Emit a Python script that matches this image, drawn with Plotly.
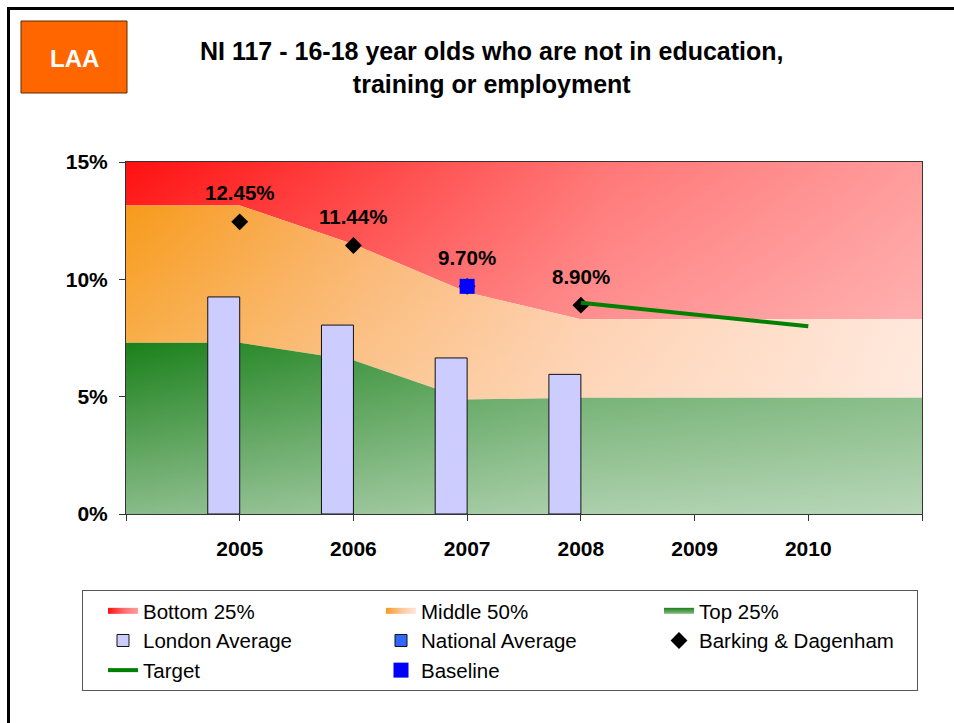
import plotly.graph_objects as go

# ---------------- data ----------------
band_years = [2004, 2005, 2006, 2007, 2008, 2009, 2010, 2011]
top25_upper = [7.3, 7.3, 6.55, 4.88, 4.95, 4.95, 4.95, 4.95]
middle50_upper = [13.15, 13.15, 11.5, 9.45, 8.3, 8.3, 8.3, 8.3]
bottom25_upper = [15, 15, 15, 15, 15, 15, 15, 15]

years = [2005, 2006, 2007, 2008]
london_avg = [9.25, 8.05, 6.65, 5.95]
national_avg = [None, None, None, None]
barking = [12.45, 11.44, 9.70, 8.90]

target_years = [2008, 2010]
target = [9.0, 8.0]

baseline_years = [2007]
baseline = [9.70]

tick_years = [2004, 2005, 2006, 2007, 2008, 2009, 2010, 2011]
tick_labels = ["", "2005", "2006", "2007", "2008", "2009", "2010", ""]
y_ticks = [0, 5, 10, 15]
y_tick_labels = [f"{v}%" for v in y_ticks]

FONT = "Liberation Sans, Arial, sans-serif"

# plot-area pixel geometry (for paper-coordinate helpers)
W, H = 954, 723
L, R, T, B = 126, 32, 162, 209
PW, PH = W - L - R, H - T - B


def px(xp):
    return (xp - L) / PW


def py(yp):
    return (H - B - yp) / PH


def band(lower, upper):
    xs = band_years + band_years[::-1]
    ys = list(upper) + list(lower)[::-1]
    return xs, ys


zeros = [0] * len(band_years)

fig = go.Figure()

# Bottom 25% (red)
bx, by = band(middle50_upper, bottom25_upper)
fig.add_trace(go.Scatter(
    x=bx, y=by, fill="toself", mode="none", name="Bottom 25%",
    fillgradient=dict(type="horizontal", start=2004, stop=2011,
                      colorscale=[[0, "#FF1010"], [0.43, "#FF5A5A"],
                                  [0.6, "#FF7676"], [1, "#FF9C9C"]]),
    hoverinfo="skip"))
# Middle 50% (orange)
mx, my = band(top25_upper, middle50_upper)
fig.add_trace(go.Scatter(
    x=mx, y=my, fill="toself", mode="none", name="Middle 50%",
    fillgradient=dict(type="horizontal", start=2004, stop=2011,
                      colorscale=[[0, "#F79A1A"], [0.3, "#FAB36A"],
                                  [0.57, "#FECAA5"], [1, "#FFE6DA"]]),
    hoverinfo="skip"))
# Top 25% (green)
gx, gy = band(zeros, top25_upper)
fig.add_trace(go.Scatter(
    x=gx, y=gy, fill="toself", mode="none", name="Top 25%",
    fillgradient=dict(type="vertical", start=0, stop=7.3,
                      colorscale=[[0, "#88BB88"], [1, "#1A801A"]]),
    hoverinfo="skip"))

# gradient overlays (diagonal feel)
fig.add_trace(go.Scatter(
    x=bx, y=by, fill="toself", mode="none", showlegend=False,
    fillgradient=dict(type="vertical", start=8.3, stop=15,
                      colorscale=[[0, "rgba(255,255,255,0.2)"], [1, "rgba(255,255,255,0)"]]),
    hoverinfo="skip"))
fig.add_trace(go.Scatter(
    x=mx, y=my, fill="toself", mode="none", showlegend=False,
    fillgradient=dict(type="vertical", start=4.9, stop=13.15,
                      colorscale=[[0, "rgba(255,240,230,0.32)"], [1, "rgba(255,240,230,0)"]]),
    hoverinfo="skip"))
fig.add_trace(go.Scatter(
    x=gx, y=gy, fill="toself", mode="none", showlegend=False,
    fillgradient=dict(type="horizontal", start=2004, stop=2011,
                      colorscale=[[0, "rgba(255,255,255,0)"], [0.57, "rgba(255,255,255,0.3)"],
                                  [1, "rgba(255,255,255,0.4)"]]),
    hoverinfo="skip"))

# London Average bars (overlay axes so they sit above the bands)
fig.add_trace(go.Bar(
    x=years, y=london_avg, name="London Average", xaxis="x2", yaxis="y2",
    marker=dict(color="#CCCCFF", line=dict(color="#111111", width=1)),
    width=0.281, offset=-0.281, hoverinfo="skip"))
fig.add_trace(go.Bar(
    x=years, y=national_avg, name="National Average", xaxis="x2", yaxis="y2",
    marker=dict(color="#3366FF", line=dict(color="#111111", width=1)),
    width=0.281, offset=0, hoverinfo="skip"))

fig.add_trace(go.Scatter(
    x=years, y=barking, name="Barking & Dagenham", mode="markers",
    xaxis="x2", yaxis="y2",
    marker=dict(symbol="diamond", size=13, color="black"), hoverinfo="skip"))
fig.add_trace(go.Scatter(
    x=target_years, y=target, name="Target", mode="lines",
    xaxis="x2", yaxis="y2",
    line=dict(color="#008000", width=4), hoverinfo="skip"))
fig.add_trace(go.Scatter(
    x=baseline_years, y=baseline, name="Baseline", mode="markers",
    xaxis="x2", yaxis="y2",
    marker=dict(symbol="square", size=15, color="#0000FF"), hoverinfo="skip"))

annotations = []
for xv, yv in zip(years, barking):
    annotations.append(dict(
        x=xv, y=yv, xref="x", yref="y", text=f"{yv:.2f}%", showarrow=False,
        yshift=29, font=dict(family=FONT, size=20.5, color="black", weight="bold")))

annotations.append(dict(
    x=px(492), y=py(68), xref="paper", yref="paper",
    text="NI 117 - 16-18 year olds who are not in education,<br>training or employment",
    showarrow=False, xanchor="center", yanchor="middle", align="center",
    font=dict(family=FONT, size=25, color="black", weight="bold")))
annotations.append(dict(
    x=px(74), y=py(58), xref="paper", yref="paper", text="LAA", showarrow=False,
    xanchor="center", yanchor="middle",
    font=dict(family=FONT, size=24, color="white", weight="bold")))

shapes = [
    dict(type="rect", xref="paper", yref="paper", x0=px(21), x1=px(127), y0=py(21), y1=py(93),
         fillcolor="#FF6600", line=dict(color="#5A2A00", width=1)),
    dict(type="line", xref="paper", yref="paper", x0=px(8.5), x1=px(8.5), y0=py(7), y1=py(730),
         line=dict(color="black", width=3)),
    dict(type="line", xref="paper", yref="paper", x0=px(7), x1=px(960), y0=py(8.5), y1=py(8.5),
         line=dict(color="black", width=3)),
]

fig.update_layout(
    width=W, height=H,
    margin=dict(l=L, r=R, t=T, b=B, pad=0),
    paper_bgcolor="white", plot_bgcolor="white",
    font=dict(family=FONT, color="black"),
    showlegend=True,
    barmode="overlay",
    xaxis=dict(range=[2004, 2011], tickmode="array", tickvals=tick_years, ticktext=tick_labels,
               ticks="outside", ticklen=6, tickcolor="#333", showline=True, linecolor="#333",
               linewidth=1, mirror=True, showgrid=False, zeroline=False,
               tickfont=dict(family=FONT, size=21, color="black", weight="bold"),
               ticklabelstandoff=10),
    yaxis=dict(range=[0, 15], tickmode="array", tickvals=y_ticks, ticktext=y_tick_labels,
               ticks="outside", ticklen=6, tickcolor="#333", showline=True, linecolor="#333",
               linewidth=1, mirror=True, showgrid=False, zeroline=False,
               tickfont=dict(family=FONT, size=21, color="black", weight="bold"),
               ticklabelstandoff=7),
    xaxis2=dict(range=[2004, 2011], overlaying="x", visible=False, anchor="y2"),
    yaxis2=dict(range=[0, 15], overlaying="y", visible=False, anchor="x2"),
    legend=dict(orientation="h", x=px(82), y=py(590), xanchor="left", yanchor="top",
                bgcolor="white", bordercolor="#555", borderwidth=1,
                font=dict(family=FONT, size=20.5, color="black"),
                entrywidth=213, entrywidthmode="pixels", indentation=20,
                traceorder="normal"),
    annotations=annotations,
    shapes=shapes,
)

fig.write_html("out.html",
               config={"displayModeBar": False},
               post_script="document.body.style.margin='0';document.body.style.overflow='hidden';")
